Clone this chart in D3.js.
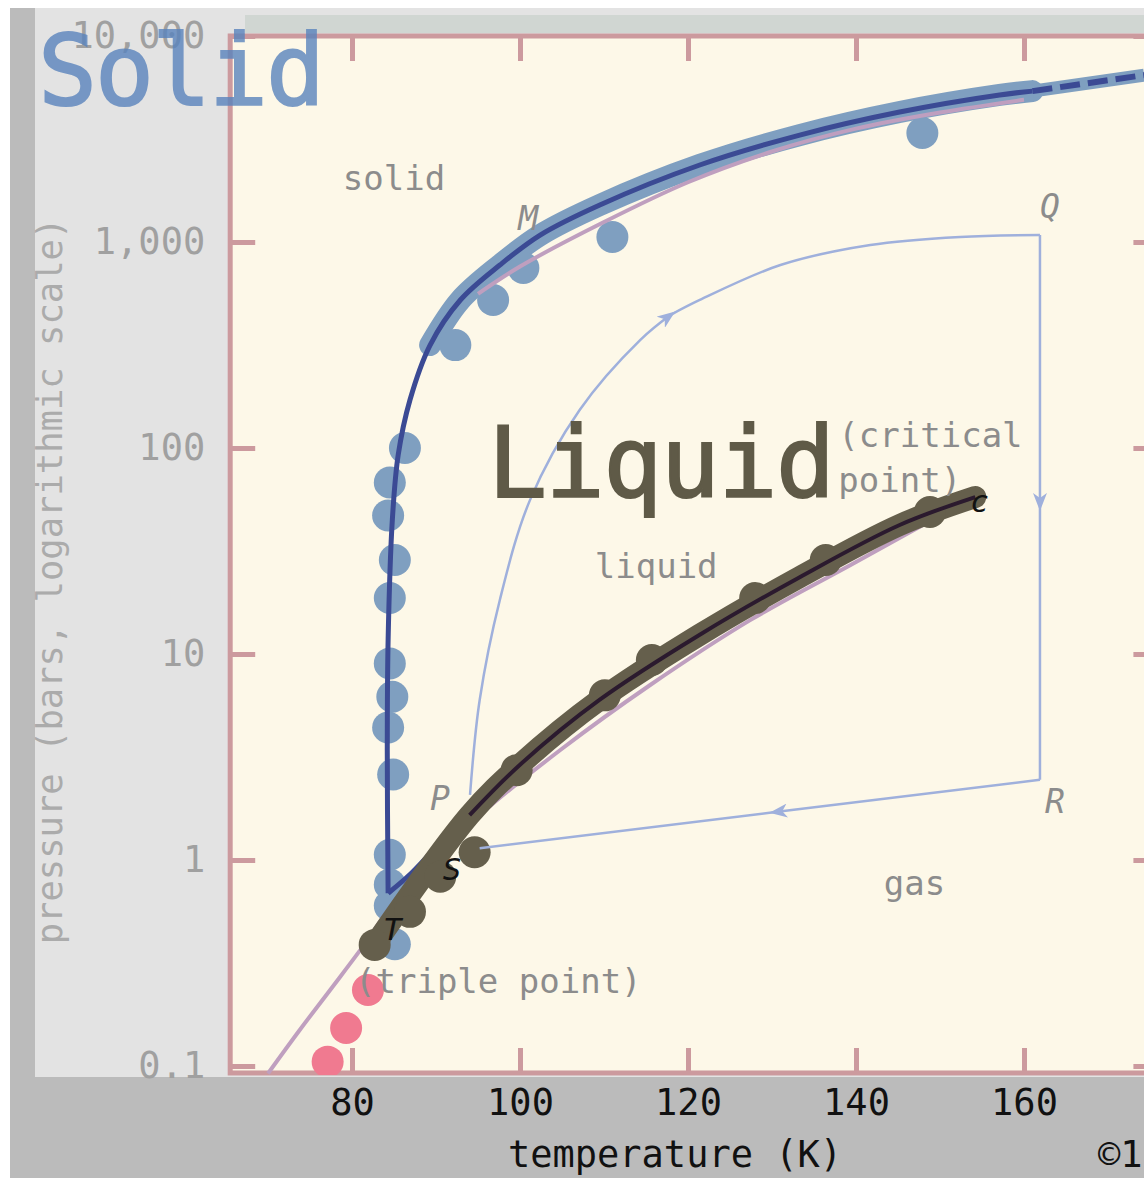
<!DOCTYPE html>
<html>
<head>
<meta charset="utf-8">
<script src="https://cdn.jsdelivr.net/npm/d3@7"></script>
<style>
  body { margin: 0; background: #fff; }
  text { font-family: "DejaVu Sans Mono", monospace; }
</style>
</head>
<body>
<div id="container"></div>
<script>
// All values are [temperature (K), pressure (bar)]

// melting curve (solid / liquid boundary), drawn line
const meltLine = [
  [84.3, 0.69], [84.2, 3.4], [84.3, 11.7], [84.8, 44.7], [85.5, 92.5],
  [86.9, 171], [89.3, 316], [92.9, 523], [97.6, 773], [102.4, 1081],
  [109.5, 1513], [121.4, 2365], [133.3, 3305], [145.2, 4275], [157.1, 5173],
  [161, 5400], [174.3, 6460]
];
// melting curve, measured points
const meltPts = [
  [86.3, 100], [84.5, 68], [84.3, 47], [85.1, 28.6], [84.5, 18.7],
  [84.5, 9.0], [84.8, 6.2], [84.3, 4.4], [84.9, 2.6], [84.5, 1.06],
  [84.5, 0.76], [84.5, 0.6], [85.1, 0.39],
  [92.3, 316], [96.8, 523], [100.4, 748], [111, 1057], [147.9, 3381]
];
// vapour pressure curve (liquid / gas boundary)
const vaporLine = [
  [84.3, 0.69], [86.9, 0.85], [90, 1.15], [94, 1.65], [100, 2.9],
  [109.5, 6.0], [121.4, 12.4], [133.3, 23.6], [145.2, 42.3], [154.2, 57.8]
];
const vaporPts = [
  [82.7, 0.387], [86.9, 0.56], [90.5, 0.83], [94.6, 1.09], [99.6, 2.73],
  [110.1, 6.3], [115.7, 9.35], [128, 18.7], [136.4, 28.6], [148.8, 48.9]
];
// sublimation curve (solid / gas boundary)
const sublPts = [[81.9, 0.234], [79.3, 0.153], [77.1, 0.105]];
// theoretical curves
const theoryVapor = [
  [70, 0.092], [73.8, 0.15], [77.4, 0.234], [81, 0.366], [85.7, 0.676],
  [90.5, 1.06], [95.2, 1.65], [104.8, 3.42], [115.5, 7.07], [127.4, 14.6],
  [139.3, 27], [151.2, 50]
];
const theoryMelt = [
  [95, 560], [100, 760], [110, 1250], [120, 1950], [130, 2750],
  [140, 3550], [150, 4250], [160, 4900]
];
// path P -> Q -> R -> S (split where arrows sit)
const pathPQ1 = [
  [94.05, 2.07], [95.2, 5.98], [97.6, 18.3], [101.2, 56], [107.1, 153],
  [114.3, 334], [117.9, 442]
];
const pathPQ2 = [
  [117.9, 442], [121.4, 523], [131, 773], [141.7, 967], [152.4, 1058], [161.9, 1081]
];
const pathQR1 = [[161.9, 1081], [161.9, 52.9]];
const pathQR2 = [[161.9, 52.9], [161.9, 2.45]];
const pathRS1 = [[161.9, 2.45], [130.4, 1.71]];
const pathRS2 = [[130.4, 1.71], [95.2, 1.14]];

const xTicks = [80, 100, 120, 140, 160];
const yTicks = [0.1, 1, 10, 100, 1000, 10000];
const yTickLabels = ['0.1', '1', '10', '100', '1,000', '10,000'];

// annotations: text, T, p
const regionLabels = [
  ['solid', 78.9, 1787], ['liquid', 108.9, 23.4], ['gas', 143.3, 0.676],
  ['(triple point)', 80.36, 0.226], ['(critical', 137.9, 101], ['point)', 137.9, 61.1]
];
const greyLetters = [['M', 99.8, 1143], ['Q', 161.9, 1308], ['P', 89.3, 1.75], ['R', 162.5, 1.69]];
const blackLetters = [['S', 90.8, 0.8], ['T', 83.7, 0.41], ['c', 153.6, 48.9]];

const svg = d3.select('#container').append('svg')
  .attr('width', 1144)
  .attr('height', 1178);

// Scales
const x = d3.scaleLinear().domain([80, 160]).range([352, 1024]);
const y = d3.scaleLog().domain([0.1, 10000]).range([1066, 36]);

const frameL = x(65.5), frameR = x(176), frameT = y(10000), frameB = y(0.0925);

// backgrounds
svg.append('rect').attr('x', 10).attr('y', 8).attr('width', 25).attr('height', 1170).attr('fill', '#bbbbbb');
svg.append('rect').attr('x', 35).attr('y', 8).attr('width', 1109).attr('height', 1069).attr('fill', '#e3e3e3');
svg.append('rect').attr('x', 245).attr('y', 15).attr('width', 899).attr('height', 18).attr('fill', '#d0d6d2');
svg.append('rect').attr('x', 10).attr('y', 1077).attr('width', 1134).attr('height', 101).attr('fill', '#bbbbbb');
svg.append('rect').attr('x', frameL).attr('y', frameT).attr('width', frameR - frameL).attr('height', frameB - frameT)
  .attr('fill', '#fdf8e8');

// Axes
function styleAxis(g) {
  g.select('.domain').remove();
  g.selectAll('.tick line').attr('stroke', '#cc9a9e').attr('stroke-width', 5);
  g.selectAll('.tick text').style('font-family', '"DejaVu Sans Mono", monospace').attr('font-size', 37);
}
svg.append('g').attr('transform', `translate(0,${frameB})`)
  .call(d3.axisBottom(x).tickValues(xTicks).tickSize(-25).tickPadding(16))
  .call(styleAxis)
  .selectAll('.tick text').attr('fill', '#111');
svg.append('g').attr('transform', `translate(0,${frameT})`)
  .call(d3.axisTop(x).tickValues(xTicks).tickSize(-25).tickFormat(''))
  .call(styleAxis);
svg.append('g').attr('transform', `translate(${frameL},0)`)
  .call(d3.axisLeft(y).tickValues(yTicks).tickSize(-25).tickPadding(25)
    .tickFormat((d, i) => yTickLabels[i]))
  .call(styleAxis)
  .selectAll('.tick text').attr('fill', '#a0a0a0');
svg.append('g').attr('transform', `translate(${frameR},0)`)
  .call(d3.axisRight(y).tickValues(yTicks).tickSize(-25).tickFormat(''))
  .call(styleAxis);

svg.append('rect').attr('x', frameL).attr('y', frameT).attr('width', frameR - frameL).attr('height', frameB - frameT)
  .attr('fill', 'none').attr('stroke', '#cc9a9e').attr('stroke-width', 5);

// axis titles
svg.append('text')
  .attr('transform', 'translate(62,581) rotate(-90)')
  .attr('text-anchor', 'middle')
  .attr('font-size', 35.5)
  .attr('fill', '#ababab')
  .text('pressure (bars, logarithmic scale)');
svg.append('text').attr('x', 675).attr('y', 1167).attr('text-anchor', 'middle')
  .attr('font-size', 37).attr('fill', '#111').text('temperature (K)');
svg.append('text').attr('x', 1098).attr('y', 1167)
  .attr('font-size', 37).attr('fill', '#111').text('©1');

// clip
svg.append('clipPath').attr('id', 'plotclip')
  .append('rect').attr('x', frameL).attr('y', frameT).attr('width', frameR - frameL).attr('height', frameB - frameT + 2);
const plot = svg.append('g').attr('clip-path', 'url(#plotclip)');

const smooth = d3.line().x(d => x(d[0])).y(d => y(d[1])).curve(d3.curveCatmullRom.alpha(0.5));

// arrow marker
svg.append('defs').append('marker')
  .attr('id', 'arrow')
  .attr('viewBox', '0 -7 18 14')
  .attr('refX', 12).attr('refY', 0)
  .attr('markerUnits', 'userSpaceOnUse')
  .attr('markerWidth', 18).attr('markerHeight', 14)
  .attr('orient', 'auto')
  .append('path').attr('d', 'M0,-7L18,0L0,7L5,0Z').attr('fill', '#9fb0dc');

// bands
const meltUpper = meltLine.filter(d => d[0] >= 89 && d[0] <= 161);
const meltTail = meltLine.filter(d => d[0] >= 161);
const vaporBand = vaporPts.slice(0, 1).concat(vaporLine.filter(d => d[0] >= 94));
plot.append('path').attr('d', smooth(meltUpper)).attr('fill', 'none')
  .attr('stroke', '#7f9fc0').attr('stroke-width', 22).attr('stroke-linecap', 'round');
plot.append('path').attr('d', smooth(meltTail)).attr('fill', 'none')
  .attr('stroke', '#7f9fc0').attr('stroke-width', 13);

// points
plot.selectAll('.melt').data(meltPts).enter().append('circle')
  .attr('cx', d => x(d[0])).attr('cy', d => y(d[1])).attr('r', 16).attr('fill', '#7f9fc0');
plot.selectAll('.subl').data(sublPts).enter().append('circle')
  .attr('cx', d => x(d[0])).attr('cy', d => y(d[1])).attr('r', 16).attr('fill', '#f07a90');

// theory curves
[theoryVapor, theoryMelt].forEach(data => {
  plot.append('path').attr('d', smooth(data)).attr('fill', 'none')
    .attr('stroke', '#bf9fbf').attr('stroke-width', 4);
});

plot.append('path').attr('d', smooth(vaporLine.slice(0, 4))).attr('fill', 'none')
  .attr('stroke', '#3b4a94').attr('stroke-width', 5);
plot.append('path').attr('d', smooth(vaporBand)).attr('fill', 'none')
  .attr('stroke', '#655f4c').attr('stroke-width', 22).attr('stroke-linecap', 'round');
plot.selectAll('.vap').data(vaporPts).enter().append('circle')
  .attr('cx', d => x(d[0])).attr('cy', d => y(d[1])).attr('r', 16).attr('fill', '#655f4c');

// measured-fit lines
const meltSolid = meltLine.filter(d => d[1] <= 5400);
plot.append('path').attr('d', smooth(meltSolid)).attr('fill', 'none')
  .attr('stroke', '#3b4a94').attr('stroke-width', 5);
plot.append('path').attr('d', smooth(meltTail)).attr('fill', 'none')
  .attr('stroke', '#3b4a94').attr('stroke-width', 6).attr('stroke-dasharray', '20 8');
plot.append('path').attr('d', smooth(vaporLine.slice(3))).attr('fill', 'none')
  .attr('stroke', '#2b1a2e').attr('stroke-width', 4);

// path P Q R S
[pathPQ1, pathPQ2, pathQR1, pathQR2, pathRS1, pathRS2].forEach((data, i) => {
  plot.append('path').attr('d', smooth(data)).attr('fill', 'none')
    .attr('stroke', '#9fb0dc').attr('stroke-width', 2.5)
    .attr('marker-end', i % 2 === 0 ? 'url(#arrow)' : null);
});

// labels
svg.selectAll('.region').data(regionLabels).enter().append('text')
  .attr('x', d => x(d[1])).attr('y', d => y(d[2]))
  .attr('font-size', 34).attr('fill', '#8c8c8c').text(d => d[0]);
svg.selectAll('.gl').data(greyLetters).enter().append('text')
  .attr('x', d => x(d[1])).attr('y', d => y(d[2]))
  .attr('font-size', 33).attr('font-style', 'italic').attr('fill', '#8c8c8c').text(d => d[0]);
svg.selectAll('.bl').data(blackLetters).enter().append('text')
  .attr('x', d => x(d[1])).attr('y', d => y(d[2]))
  .attr('font-size', 31).attr('font-style', 'italic').attr('fill', '#111').text(d => d[0]);

// big phase names
svg.append('text').attr('x', x(96.2)).attr('y', y(57.8))
  .attr('font-size', 98).attr('fill', '#5f5a47')
  .attr('stroke', '#5f5a47').attr('stroke-width', 2)
  .attr('textLength', 347).attr('lengthAdjust', 'spacing')
  .text('Liquid');
svg.append('text').attr('x', 38).attr('y', 105)
  .attr('font-size', 98).attr('fill', '#5a84bd').attr('opacity', 0.8)
  .attr('stroke', '#5a84bd').attr('stroke-width', 2)
  .attr('textLength', 287).attr('lengthAdjust', 'spacing')
  .text('Solid');
</script>
</body>
</html>
